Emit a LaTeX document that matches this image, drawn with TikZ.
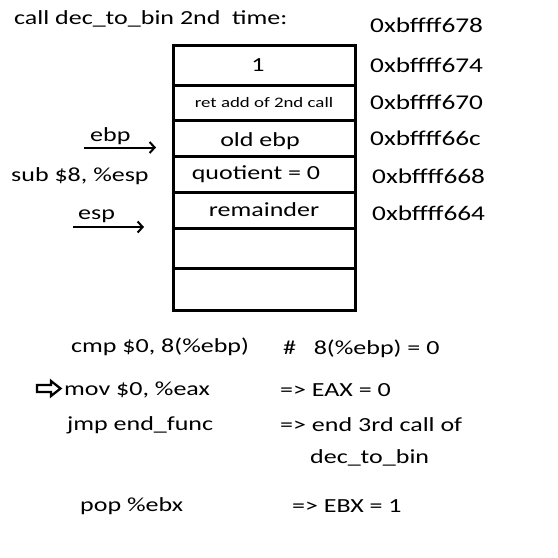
\documentclass[tikz,border=0pt]{standalone}
\usepackage{fontspec}
\setmainfont{Carlito}[FakeStretch=1.3]
\usetikzlibrary{arrows.meta}
\tikzset{
  cell/.style={draw, line width=3pt, minimum width=182pt, inner sep=0pt, font=\fontsize{20}{24}\selectfont},
  txt/.style={anchor=west, inner sep=0pt, font=\fontsize{20}{24}\selectfont},
  addr/.style={anchor=west, inner sep=0pt, font=\fontsize{21}{25}\selectfont},
  ptr/.style={line width=2pt, -{Straight Barb[length=5pt,width=11pt]}}
}
\begin{document}
\begin{tikzpicture}[x=1pt,y=-1pt]
        \useasboundingbox (0,0) rectangle (558,558);

        % Title
        \node[txt] (title) at (14,19) {call dec\_to\_bin 2nd\ \ time:};

        % Stack cells
        \node[cell, minimum height=40pt] (c1) at (264,65) {\hspace*{-12pt}1};
        \node[cell, minimum height=35pt, font=\fontsize{14.5}{17}\selectfont] (c2) at (264,102.5) {ret add of 2nd call};
        \node[cell, minimum height=36pt] (c3) at (264,138) {\raisebox{-3pt}[\height][\depth]{\hspace*{-8pt}old ebp}};
        \node[cell, minimum height=36pt] (c4) at (264,174) {\hspace*{-16pt}quotient = 0};
        \node[cell, minimum height=36pt] (c5) at (264,210) {remainder};
        \node[cell, minimum height=40pt] (c6) at (264,248) {};
        \node[cell, minimum height=42pt] (c7) at (264,289) {};

        % Addresses
        \node[addr] (a0) at (370,25) {0xbffff678};
        \node[addr] (a1) at (370,65) {0xbffff674};
        \node[addr] (a2) at (370,102) {0xbffff670};
        \node[addr] (a3) at (370,138) {0xbffff66c};
        \node[addr] (a4) at (372,176) {0xbffff668};
        \node[addr] (a5) at (372,213) {0xbffff664};

        % Pointers
        \node[txt] (ebp) at (90,136) {ebp};
        \coordinate (ebpA) at (84,147.5);
        \coordinate (ebpB) at (156,147.5);
        \draw[ptr] (ebpA) -- (ebpB);
        \node[txt] (sub) at (11,176) {sub \$8, \%esp};
        \node[txt] (esp) at (78,216) {esp};
        \coordinate (espA) at (73,227);
        \coordinate (espB) at (144,227);
        \draw[ptr] (espA) -- (espB);

        % Instructions
        \node[txt] (cmp) at (71,347) {cmp \$0, 8(\%ebp)};
        \node[txt] (cmpc) at (283,349) {\#\ \ \ 8(\%ebp) = 0};
        \node[txt] (mov) at (64,390) {mov \$0, \%eax};
        \node[txt] (movc) at (280,390) {=> EAX = 0};
        \node[txt] (jmp) at (67,425) {jmp end\_func};
        \node[txt] (jmpc) at (280,425) {=> end 3rd call of};
        \node[txt] (jmpd) at (310,458) {dec\_to\_bin};
        \node[txt] (pop) at (80,506) {pop \%ebx};
        \node[txt] (popc) at (292,506) {=> EBX = 1};

        % Current line
        \draw[line width=2.3pt, line join=miter] (37,385) -- (51,385) -- (51,381) -- (60.5,388.5)
          -- (51,396) -- (51,392) -- (37,392) -- cycle;
\end{tikzpicture}
\end{document}
